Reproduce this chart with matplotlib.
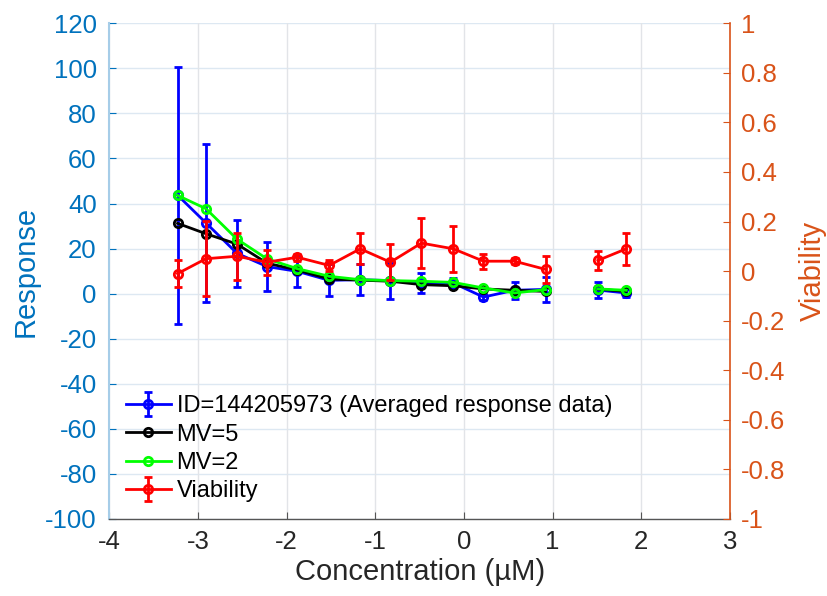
import numpy as np
import matplotlib
matplotlib.use("Agg")
import matplotlib.pyplot as plt

plt.rcParams['font.family'] = ['Liberation Sans', 'DejaVu Sans']

nan = np.nan
conc = [-3.23, -2.91, -2.56, -2.22, -1.88, -1.52, -1.17, -0.83, -0.48, -0.12,
        0.22, 0.57, 0.92, 1.27, 1.51, 1.83]
resp_mean = [43.7, 31.4, 17.9, 12.0, 9.9, 5.9, 6.2, 5.8, 4.7, 4.7,
             -1.5, 1.5, 1.9, nan, 1.6, 0.3]
resp_err = [57.0, 35.2, 14.9, 11.0, 7.1, 7.1, 6.9, 8.0, 4.3, 2.3,
            1.5, 3.7, 5.6, nan, 3.5, 1.8]
mv5 = [31.2, 26.6, 22.0, 13.5, 10.5, 6.5, 6.0, 5.5, 4.0, 3.5,
       2.1, 1.5, 1.0, nan, 2.0, 1.0]
mv2 = [43.6, 37.7, 24.2, 15.4, 11.1, 7.7, 6.2, 5.8, 5.5, 5.0,
       2.5, 0.3, 1.8, nan, 2.1, 1.5]
via_mean = [-0.01, 0.05, 0.06, 0.036, 0.056, 0.023, 0.09, 0.036, 0.113, 0.09,
            0.04, 0.04, 0.007, nan, 0.043, 0.09]
via_err = [0.056, 0.152, 0.095, 0.05, 0.015, 0.022, 0.063, 0.072, 0.10, 0.093,
           0.031, 0.012, 0.056, nan, 0.04, 0.064]

x_ticks = [-4, -3, -2, -1, 0, 1, 2, 3]
y_ticks = list(range(-100, 121, 20))
y2_ticks = [-1, -0.8, -0.6, -0.4, -0.2, 0, 0.2, 0.4, 0.6, 0.8, 1]

left_col = '#0072BD'
right_col = '#D95319'
txt_col = '#262626'

fig = plt.figure(figsize=(8.28, 5.96), dpi=100)
ax = fig.add_axes([0.132, 0.1292, 0.8816 - 0.132, 0.961 - 0.1292])
ax2 = ax.twinx()

lw = 2.0
ms = 6
cap = 3

h1 = ax.errorbar(conc, resp_mean, yerr=resp_err, color='#0000FF', lw=lw,
                 marker='o', ms=ms, mfc='none', mew=lw, capsize=cap, capthick=lw,
                 elinewidth=lw, label='ID=144205973 (Averaged response data)', zorder=3)
h2, = ax.plot(conc, mv5, color='black', lw=lw, marker='o', ms=ms, mfc='none',
              mew=lw, label='MV=5', zorder=4)
h3, = ax.plot(conc, mv2, color='#00FF00', lw=lw, marker='o', ms=ms, mfc='none',
              mew=lw, label='MV=2', zorder=5)
h4 = ax2.errorbar(conc, via_mean, yerr=via_err, color='#FF0000', lw=lw,
                  marker='o', ms=ms, mfc='none', mew=lw, capsize=cap, capthick=lw,
                  elinewidth=lw, label='Viability', zorder=3)

ax.set_xlim(-4, 3)
ax.set_ylim(-100, 120)
ax2.set_ylim(-1, 1)
ax.set_xticks(x_ticks)
ax.set_xticklabels([str(t) for t in x_ticks])
ax.set_yticks(y_ticks)
ax.set_yticklabels([str(t) for t in y_ticks])
ax2.set_yticks(y2_ticks)
ax2.set_yticklabels(['%g' % t for t in y2_ticks])

# grid
for t in y_ticks:
    ax.axhline(t, color='#dde8f2', lw=1, zorder=0)
for t in x_ticks:
    ax.axvline(t, color='#e2e4e8', lw=1, zorder=0)

for a in (ax, ax2):
    a.spines['top'].set_visible(False)
ax.spines['right'].set_visible(False)
ax2.spines['left'].set_visible(False)
ax2.spines['bottom'].set_visible(False)
ax.spines['left'].set_color('#a6cde8')
ax.spines['left'].set_linewidth(1.5)
ax.spines['bottom'].set_color('#555555')
ax.spines['bottom'].set_linewidth(1.0)
ax2.spines['right'].set_color(right_col)
ax2.spines['right'].set_linewidth(1.2)

ax.tick_params(axis='x', direction='in', length=5, color='#555555',
               labelsize=18.5, labelcolor=txt_col, pad=8)
ax.tick_params(axis='y', direction='in', length=5, color=left_col,
               labelsize=18.5, labelcolor=left_col, pad=9)
ax2.tick_params(axis='y', direction='in', length=5, color=right_col,
                labelsize=18.5, labelcolor=right_col, pad=8)

ax.set_xlabel('Concentration (\u00b5M)', fontsize=21, color=txt_col, labelpad=3)
ax.set_ylabel('Response', fontsize=21, color=left_col, labelpad=4)
ax2.set_ylabel('Viability', fontsize=21, color=right_col, labelpad=10)

leg = ax2.legend([h1, h2, h3, h4],
                 ['ID=144205973 (Averaged response data)', 'MV=5', 'MV=2', 'Viability'],
                 loc='lower left', bbox_to_anchor=(0.0, 0.0), frameon=False,
                 fontsize=17, handlelength=1.9, handletextpad=0.25,
                 labelspacing=0.27, borderaxespad=0.3)
for txt in leg.get_texts():
    txt.set_color('black')

fig.savefig('out.png', dpi=100)
